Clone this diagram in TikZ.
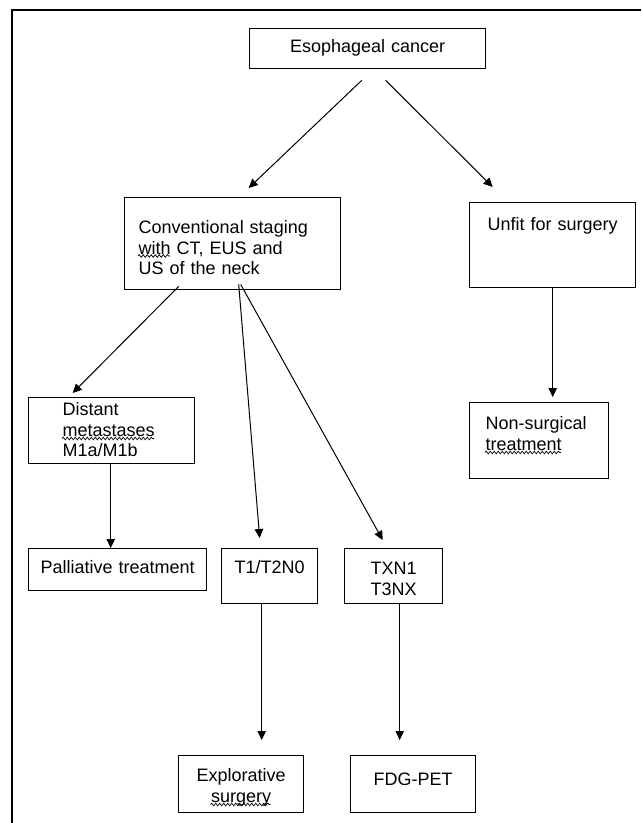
\documentclass[tikz,border=0pt]{standalone}
\usepackage{fontspec}
\setmainfont{Liberation Sans}
\usetikzlibrary{arrows.meta,decorations.pathmorphing}

\begin{document}
\begin{tikzpicture}[x=1pt, y=-1pt,
  font=\fontsize{18}{20.5}\selectfont,
  box/.style={draw, line width=1.4pt, inner ysep=0pt, anchor=north west},
  arr/.style={-{Triangle[length=9pt,width=8.5pt]}, line width=1pt},
  squiggle/.style={decorate, decoration={snake, amplitude=1.3pt, segment length=4pt}, line width=0.7pt}]
\useasboundingbox (0,0) rectangle (641,823);

% Outer frame
\draw[line width=2pt] (12,823) -- (12,10) -- (641,10);

% Boxes
\node[box, inner xsep=0pt, text width=236pt, align=center, text height=24pt, text depth=16pt] (cancer) at (249,28) {Esophageal cancer};
\node[box, inner xsep=14pt, text width=188pt, align=left, text height=36pt, text depth=56pt] (stage) at (124,197) {Conventional staging\\with CT, EUS and\\US of the neck};
\node[box, inner xsep=18pt, text width=130pt, align=left, text height=28pt, text depth=57pt] (unfit) at (469,202) {\mbox{Unfit for surgery}};
\node[box, inner xsep=34pt, text width=98pt, align=left, text height=18pt, text depth=48pt] (dist) at (28,397) {Distant\\\mbox{metastases}\\M1a/M1b};
\node[box, inner xsep=16pt, text width=107pt, align=left, text height=27pt, text depth=49pt] (nonsurg) at (469,402) {\mbox{Non-surgical}\\treatment};
\node[box, inner xsep=12pt, text width=154pt, align=left, text height=25pt, text depth=17pt] (pall) at (28,548) {\mbox{Palliative treatment}};
\node[box, inner xsep=0pt, text width=96pt, align=center, text height=25pt, text depth=30pt] (t1) at (221,548) {T1/T2N0};
\node[box, inner xsep=0pt, text width=98pt, align=center, text height=26pt, text depth=29pt] (txn) at (344,548) {TXN1\\T3NX};
\node[box, inner xsep=0pt, text width=125pt, align=center, text height=26pt, text depth=31pt] (expl) at (178,755) {Explorative\\surgery};
\node[box, inner xsep=0pt, text width=125pt, align=center, text height=30pt, text depth=27pt] (pet) at (350,755) {FDG-PET};

% Spell-check squiggles
\draw[squiggle] (138,256) -- (170,256);
\draw[squiggle] (62,438.5) -- (154,438.5);
\draw[squiggle] (485,452.5) -- (561,452.5);
\draw[squiggle] (210.5,804.5) -- (270.5,804.5);

% Arrows
\draw[arr] ([xshift=-6pt,yshift=-11pt]cancer.south) -- ([xshift=16pt,yshift=9pt]stage.north);
\draw[arr] ([xshift=18pt,yshift=-11pt]cancer.south) -- ([xshift=-60pt,yshift=15pt]unfit.north);
\draw[arr] ([xshift=-54pt,yshift=4pt]stage.south) -- ([xshift=-39pt,yshift=4pt]dist.north);
\draw[arr] ([xshift=6pt,yshift=6pt]stage.south) -- ([xshift=-10pt,yshift=10pt]t1.north);
\draw[arr] ([xshift=8pt,yshift=6pt]stage.south) -- ([xshift=-11pt,yshift=8pt]txn.north);
\draw[arr] (unfit.south) -- ([xshift=13.5pt,yshift=5pt]nonsurg.north);
\draw[arr] ([xshift=-1pt]dist.south) -- ([xshift=-7pt]pall.north);
\draw[arr] ([xshift=-8pt]t1.south) -- ([xshift=20.5pt,yshift=15pt]expl.north);
\draw[arr] ([xshift=6pt]txn.south) -- ([xshift=-13.5pt,yshift=15pt]pet.north);

\end{tikzpicture}
\end{document}
